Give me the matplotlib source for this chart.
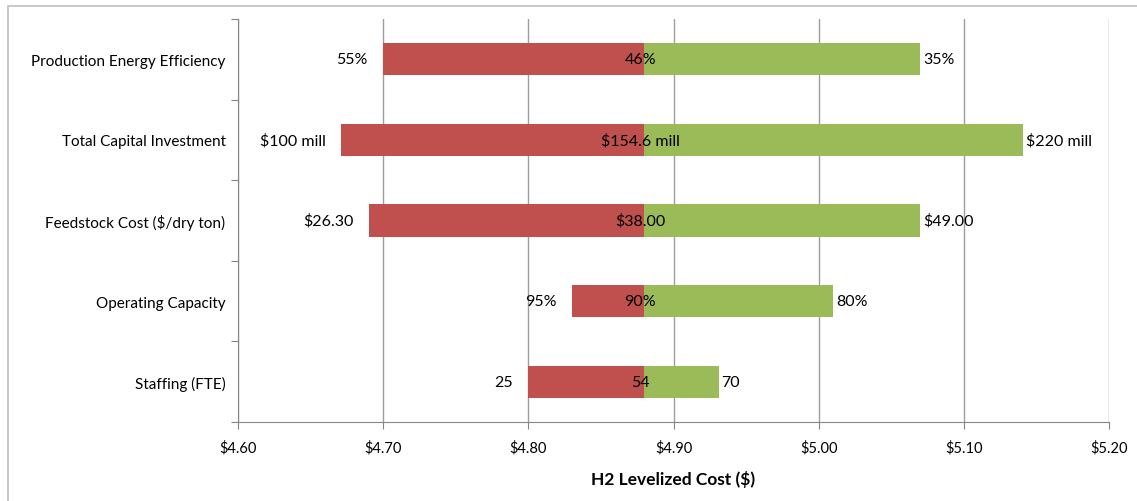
import numpy as np
import matplotlib.pyplot as plt
from matplotlib.patches import Rectangle
from matplotlib.transforms import offset_copy

plt.rcParams['font.family'] = ['Lato', 'DejaVu Sans']

# sensitivity data (top row first)
categories = ['Production Energy Efficiency', 'Total Capital Investment',
              'Feedstock Cost ($/dry ton)', 'Operating Capacity', 'Staffing (FTE)']
base_cost = 4.88
low_cost = [4.70, 4.671, 4.69, 4.83, 4.80]
high_cost = [5.07, 5.141, 5.07, 5.01, 4.931]
low_labels = ['55%', '$100 mill', '$26.30', '95%', '25']
base_labels = ['46%', '$154.6 mill', '$38.00', '90%', '54']
high_labels = ['35%', '$220 mill', '$49.00', '80%', '70']
x_ticks = [4.60, 4.70, 4.80, 4.90, 5.00, 5.10, 5.20]

red = '#C0504D'
green = '#9BBB59'
grid_col = '#9E9E9E'

fig = plt.figure(figsize=(11.37, 5.02), dpi=100)
# light outer chart border (clipped at right/bottom like the original)
fig.patches.append(Rectangle((8 / 1137, -0.1), 1.2, 1 - 7 / 502 + 0.1,
                             transform=fig.transFigure, fill=False,
                             edgecolor='#BFBFBF', linewidth=1.2))

ax = fig.add_axes([238 / 1137, 1 - 423 / 502, (1109 - 238) / 1137, (423 - 20) / 502])

y = np.arange(len(categories))
low = np.array(low_cost)
high = np.array(high_cost)

ax.barh(y, base_cost - low, left=low, height=0.4, color=red, zorder=3)
ax.barh(y, high - base_cost, left=base_cost, height=0.4, color=green, zorder=3)

lab_kw = dict(fontsize=11.5, va='center', color='black', zorder=5)
for i in range(len(categories)):
    t = offset_copy(ax.transData, fig=fig, x=-11, y=0, units='points')
    ax.text(low[i], y[i], low_labels[i], ha='right', transform=t, **lab_kw)
    t = offset_copy(ax.transData, fig=fig, x=-3, y=0, units='points')
    ax.text(base_cost, y[i], base_labels[i], ha='center', transform=t, **lab_kw)
    t = offset_copy(ax.transData, fig=fig, x=2, y=0, units='points')
    ax.text(high[i], y[i], high_labels[i], ha='left', transform=t, **lab_kw)

ax.set_xlim(4.60, 5.20)
ax.set_ylim(len(categories) - 0.5, -0.5)
ax.set_xticks(x_ticks)
ax.set_xticklabels(['${:.2f}'.format(v) for v in x_ticks], fontsize=10.5)
ax.tick_params(axis='x', length=5, color='#868686', pad=8)

# category labels centred, tick marks at the boundaries
ax.set_yticks(np.arange(len(categories) + 1) - 0.5)
ax.set_yticklabels([])
ax.set_yticks(y, minor=True)
ax.set_yticklabels(categories, minor=True, fontsize=11)
ax.tick_params(axis='y', which='major', length=5, color='#868686')
ax.tick_params(axis='y', which='minor', length=0, pad=9)

ax.grid(axis='x', color=grid_col, linewidth=1, zorder=0)
for s in ['top', 'right']:
    ax.spines[s].set_visible(False)
for s in ['left', 'bottom']:
    ax.spines[s].set_color('#868686')

ax.set_xlabel('H2 Levelized Cost ($)', fontsize=12.5, fontweight='bold', labelpad=11)

fig.savefig('out.png', dpi=100)
